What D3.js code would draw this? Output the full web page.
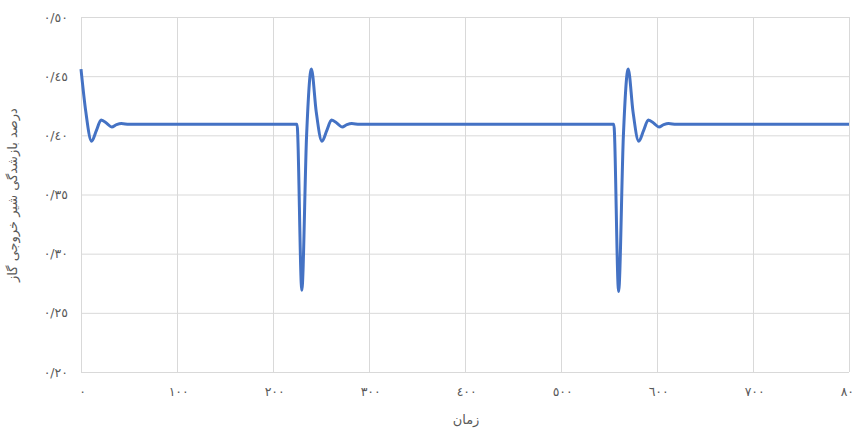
<!DOCTYPE html>
<html>
<head>
<meta charset="utf-8">
<script src="https://cdn.jsdelivr.net/npm/d3@7"></script>
<style>
	body { margin: 0; background: #fff; }
	text { font-family: "DejaVu Sans", sans-serif; fill: #595959; }
</style>
</head>
<body>
<svg id="chart" width="856" height="428"></svg>
<script>

	// data
	var time = [0, 5, 11, 16, 21, 27, 32, 37, 42, 50, 60,
		225, 230, 235, 240, 245, 251, 256, 261, 267, 272, 277, 282, 290, 300,
		555, 560, 565, 570, 575, 581, 586, 591, 597, 602, 607, 612, 620, 630, 800];
	var opening = [0.456, 0.420, 0.395, 0.404, 0.413, 0.410, 0.407, 0.409, 0.4100, 0.4093, 0.4093,
		0.4093, 0.269, 0.400, 0.456, 0.420, 0.395, 0.404, 0.413, 0.410, 0.407, 0.409, 0.4100, 0.4093, 0.4093,
		0.4093, 0.268, 0.400, 0.456, 0.420, 0.395, 0.404, 0.413, 0.410, 0.407, 0.409, 0.4100, 0.4093, 0.4093, 0.4093];
	var xTicks = [0, 100, 200, 300, 400, 500, 600, 700, 800];
	var yTicks = [0.20, 0.25, 0.30, 0.35, 0.40, 0.45, 0.50];
	var xTitle = "زمان";
	var yTitle = "درصد بازشدگی شیر خروجی گاز";

	var plotLeft = 81, plotRight = 849, plotTop = 17, plotBottom = 372;

	var digits = "٠١٢٣٤٥٦٧٨٩";
	function arabic(s) {
		return s.replace(/[0-9]/g, function (c) { return digits[+c]; });
	}

	var svg = d3.select("#chart");

	var x = d3.scaleLinear().domain([0, 800]).range([plotLeft, plotRight]);
	var y = d3.scaleLinear().domain([0.2, 0.5]).range([plotBottom, plotTop]);

	// gridlines
	svg.append("g")
		.attr("transform", "translate(0," + plotBottom + ")")
		.call(d3.axisBottom(x).tickValues(xTicks).tickSize(-(plotBottom - plotTop)).tickFormat(""))
		.call(function (g) {
			g.select(".domain").remove();
			g.selectAll("line").attr("stroke", "#d9d9d9");
		});
	svg.append("g")
		.attr("transform", "translate(" + plotLeft + ",0)")
		.call(d3.axisLeft(y).tickValues(yTicks).tickSize(-(plotRight - plotLeft)).tickFormat(""))
		.call(function (g) {
			g.select(".domain").remove();
			g.selectAll("line").attr("stroke", "#d9d9d9");
		});

	// tick labels
	svg.append("g")
		.attr("transform", "translate(0," + plotBottom + ")")
		.call(d3.axisBottom(x).tickValues(xTicks).tickSize(0).tickPadding(15)
			.tickFormat(function (d) { return arabic(String(d)); }))
		.call(function (g) {
			g.select(".domain").remove();
			g.selectAll("text")
				.attr("font-size", 12.5)
				.attr("letter-spacing", "2.5px")
				.attr("dx", 1.2)
				.attr("fill", "#595959");
		});
	svg.append("g")
		.attr("transform", "translate(" + plotLeft + ",0)")
		.call(d3.axisLeft(y).tickValues(yTicks).tickSize(0).tickPadding(13)
			.tickFormat(function (d) { return arabic(d.toFixed(2).replace(".", "/")); }))
		.call(function (g) {
			g.select(".domain").remove();
			g.selectAll("text")
				.attr("font-size", 12.5)
				.attr("letter-spacing", "3px")
				.attr("fill", "#595959");
		});

	// titles
	svg.append("text")
		.attr("x", 466).attr("y", 424)
		.attr("text-anchor", "middle")
		.attr("font-size", 13)
		.text(xTitle);
	svg.append("text")
		.attr("transform", "translate(17,195) rotate(-90)")
		.attr("text-anchor", "middle")
		.attr("font-size", 13)
		.text(yTitle);

	// line
	var pts = time.map(function (t, i) { return [t, opening[i]]; });
	var line = d3.line()
		.x(function (d) { return x(d[0]); })
		.y(function (d) { return y(d[1]); })
		.curve(d3.curveMonotoneX);
	svg.append("path")
		.datum(pts)
		.attr("d", line)
		.attr("fill", "none")
		.attr("stroke", "#4472c4")
		.attr("stroke-width", 3)
		.attr("stroke-linejoin", "round");

</script>
</body>
</html>
